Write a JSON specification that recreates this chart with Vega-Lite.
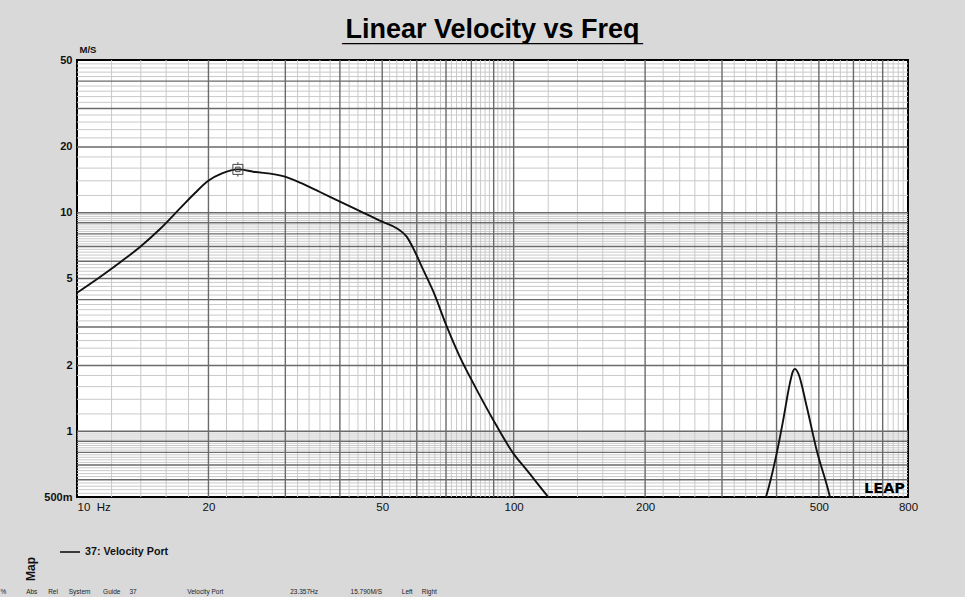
{
  "$schema": "https://vega.github.io/schema/vega-lite/v6.json",
  "width": 831,
  "height": 437,
  "autosize": {"type": "none"},
  "padding": {"left": 77, "top": 60, "right": 57, "bottom": 100},
  "background": "#d9d9d9",
  "title": {
    "text": "Linear Velocity vs Freq",
    "subtitle": "____________________",
    "font": "Liberation Sans",
    "fontSize": 27,
    "fontWeight": "bold",
    "color": "#000000",
    "subtitleFont": "Liberation Sans",
    "subtitleFontSize": 27,
    "subtitleFontWeight": "bold",
    "subtitleColor": "#000000",
    "subtitlePadding": -24,
    "anchor": "middle",
    "offset": -3
  },
  "datasets": {
    "xMajor": [
      {"f": 20}, {"f": 30}, {"f": 40}, {"f": 50}, {"f": 60}, {"f": 70}, {"f": 80}, {"f": 90},
      {"f": 100}, {"f": 200}, {"f": 300}, {"f": 400}, {"f": 500}, {"f": 600}, {"f": 700}
    ],
    "xMinor": [
      {"f": 12}, {"f": 14}, {"f": 16}, {"f": 18},
      {"f": 22}, {"f": 24}, {"f": 26}, {"f": 28},
      {"f": 32}, {"f": 34}, {"f": 36}, {"f": 38},
      {"f": 42}, {"f": 44}, {"f": 46}, {"f": 48},
      {"f": 52}, {"f": 54}, {"f": 56}, {"f": 58},
      {"f": 62}, {"f": 64}, {"f": 66}, {"f": 68},
      {"f": 72}, {"f": 74}, {"f": 76}, {"f": 78},
      {"f": 82}, {"f": 84}, {"f": 86}, {"f": 88},
      {"f": 92}, {"f": 94}, {"f": 96}, {"f": 98},
      {"f": 120}, {"f": 140}, {"f": 160}, {"f": 180},
      {"f": 220}, {"f": 240}, {"f": 260}, {"f": 280},
      {"f": 320}, {"f": 340}, {"f": 360}, {"f": 380},
      {"f": 420}, {"f": 440}, {"f": 460}, {"f": 480},
      {"f": 520}, {"f": 540}, {"f": 560}, {"f": 580},
      {"f": 620}, {"f": 640}, {"f": 660}, {"f": 680},
      {"f": 720}, {"f": 740}, {"f": 760}, {"f": 780}
    ],
    "yMajor": [
      {"v": 0.6}, {"v": 0.7}, {"v": 0.8}, {"v": 0.9},
      {"v": 1}, {"v": 2}, {"v": 3}, {"v": 4}, {"v": 5}, {"v": 6}, {"v": 7}, {"v": 8}, {"v": 9},
      {"v": 10}, {"v": 20}, {"v": 30}, {"v": 40}
    ],
    "yMinor": [
      {"v": 0.52}, {"v": 0.54}, {"v": 0.56}, {"v": 0.58},
      {"v": 0.62}, {"v": 0.64}, {"v": 0.66}, {"v": 0.68},
      {"v": 0.72}, {"v": 0.74}, {"v": 0.76}, {"v": 0.78},
      {"v": 0.82}, {"v": 0.84}, {"v": 0.86}, {"v": 0.88},
      {"v": 0.92}, {"v": 0.94}, {"v": 0.96}, {"v": 0.98},
      {"v": 1.2}, {"v": 1.4}, {"v": 1.6}, {"v": 1.8},
      {"v": 2.2}, {"v": 2.4}, {"v": 2.6}, {"v": 2.8},
      {"v": 3.2}, {"v": 3.4}, {"v": 3.6}, {"v": 3.8},
      {"v": 4.2}, {"v": 4.4}, {"v": 4.6}, {"v": 4.8},
      {"v": 5.2}, {"v": 5.4}, {"v": 5.6}, {"v": 5.8},
      {"v": 6.2}, {"v": 6.4}, {"v": 6.6}, {"v": 6.8},
      {"v": 7.2}, {"v": 7.4}, {"v": 7.6}, {"v": 7.8},
      {"v": 8.2}, {"v": 8.4}, {"v": 8.6}, {"v": 8.8},
      {"v": 9.2}, {"v": 9.4}, {"v": 9.6}, {"v": 9.8},
      {"v": 12}, {"v": 14}, {"v": 16}, {"v": 18},
      {"v": 22}, {"v": 24}, {"v": 26}, {"v": 28},
      {"v": 32}, {"v": 34}, {"v": 36}, {"v": 38},
      {"v": 42}, {"v": 44}, {"v": 46}, {"v": 48}
    ],
    "curve": [
      {"seg": "low", "f": 10, "v": 4.3},
      {"seg": "low", "f": 11.29, "v": 5.08},
      {"seg": "low", "f": 12.54, "v": 5.92},
      {"seg": "low", "f": 13.94, "v": 6.97},
      {"seg": "low", "f": 15.49, "v": 8.42},
      {"seg": "low", "f": 17.21, "v": 10.46},
      {"seg": "low", "f": 18.63, "v": 12.31},
      {"seg": "low", "f": 19.95, "v": 13.97},
      {"seg": "low", "f": 21.48, "v": 15.12},
      {"seg": "low", "f": 23.357, "v": 15.79},
      {"seg": "low", "f": 25.33, "v": 15.41},
      {"seg": "low", "f": 29.95, "v": 14.62},
      {"seg": "low", "f": 32.4, "v": 13.75},
      {"seg": "low", "f": 36.01, "v": 12.44},
      {"seg": "low", "f": 40.02, "v": 11.25},
      {"seg": "low", "f": 44.47, "v": 10.18},
      {"seg": "low", "f": 49.86, "v": 9.12},
      {"seg": "low", "f": 53.96, "v": 8.49},
      {"seg": "low", "f": 56.88, "v": 7.77},
      {"seg": "low", "f": 59.42, "v": 6.63},
      {"seg": "low", "f": 62.09, "v": 5.47},
      {"seg": "low", "f": 65.45, "v": 4.36},
      {"seg": "low", "f": 70.3, "v": 3.01},
      {"seg": "low", "f": 75.3, "v": 2.19},
      {"seg": "low", "f": 80.8, "v": 1.66},
      {"seg": "low", "f": 89.8, "v": 1.126},
      {"seg": "low", "f": 99.8, "v": 0.792},
      {"seg": "low", "f": 107.1, "v": 0.665},
      {"seg": "low", "f": 120, "v": 0.5},
      {"seg": "low", "f": 124.3, "v": 0.46},
      {"seg": "port", "f": 372, "v": 0.45},
      {"seg": "port", "f": 378.3, "v": 0.5},
      {"seg": "port", "f": 400.2, "v": 0.79},
      {"seg": "port", "f": 414.3, "v": 1.126},
      {"seg": "port", "f": 429.2, "v": 1.66},
      {"seg": "port", "f": 436, "v": 1.88},
      {"seg": "port", "f": 440.7, "v": 1.93},
      {"seg": "port", "f": 448.5, "v": 1.84},
      {"seg": "port", "f": 468.8, "v": 1.30},
      {"seg": "port", "f": 494.1, "v": 0.82},
      {"seg": "port", "f": 530, "v": 0.5},
      {"seg": "port", "f": 535, "v": 0.46}
    ],
    "cursor": [
      {"f": 23.357, "v": 15.79}
    ]
  },
  "layer": [
    {
      "data": {"name": "xMinor"},
      "mark": {"type": "rule", "color": "#c9c9c9", "strokeWidth": 1},
      "encoding": {
        "x": {"field": "f", "type": "quantitative", "scale": {"type": "log", "domain": [10, 800], "nice": false}}
      }
    },
    {
      "data": {"name": "yMinor"},
      "mark": {"type": "rule", "color": "#c9c9c9", "strokeWidth": 1},
      "encoding": {
        "y": {"field": "v", "type": "quantitative", "scale": {"type": "log", "domain": [0.5, 50], "nice": false}}
      }
    },
    {
      "data": {"name": "xMajor"},
      "mark": {"type": "rule", "color": "#6a6a6a", "strokeWidth": 1.4},
      "encoding": {
        "x": {"field": "f", "type": "quantitative", "scale": {"type": "log", "domain": [10, 800], "nice": false}}
      }
    },
    {
      "data": {"name": "yMajor"},
      "mark": {"type": "rule", "color": "#6a6a6a", "strokeWidth": 1.4},
      "encoding": {
        "y": {"field": "v", "type": "quantitative", "scale": {"type": "log", "domain": [0.5, 50], "nice": false}}
      }
    },
    {
      "data": {"name": "curve"},
      "mark": {"type": "line", "strokeWidth": 1.9, "interpolate": "monotone", "clip": true},
      "encoding": {
        "x": {
          "field": "f", "type": "quantitative",
          "scale": {"type": "log", "domain": [10, 800], "nice": false},
          "axis": {
            "values": [10, 20, 50, 100, 200, 500, 800],
            "labelExpr": "datum.value == 10 ? '10\u00a0\u00a0Hz' : datum.value + ''",
            "labelAlign": {"condition": {"test": "datum.value == 10", "value": "left"}, "value": "center"},
            "labelFont": "Liberation Sans",
            "labelFontSize": 11.5,
            "labelColor": "#111111",
            "labelPadding": 4,
            "ticks": false,
            "domain": false,
            "grid": false,
            "title": "%\u00a0\u00a0\u00a0\u00a0\u00a0\u00a0\u00a0\u00a0\u00a0\u00a0\u00a0Abs\u00a0\u00a0\u00a0\u00a0\u00a0\u00a0Rel\u00a0\u00a0\u00a0\u00a0\u00a0\u00a0System\u00a0\u00a0\u00a0\u00a0\u00a0\u00a0\u00a0Guide\u00a0\u00a0\u00a0\u00a0\u00a037\u00a0\u00a0\u00a0\u00a0\u00a0\u00a0\u00a0\u00a0\u00a0\u00a0\u00a0\u00a0\u00a0\u00a0\u00a0\u00a0\u00a0\u00a0\u00a0\u00a0\u00a0\u00a0\u00a0\u00a0\u00a0\u00a0\u00a0\u00a0Velocity Port\u00a0\u00a0\u00a0\u00a0\u00a0\u00a0\u00a0\u00a0\u00a0\u00a0\u00a0\u00a0\u00a0\u00a0\u00a0\u00a0\u00a0\u00a0\u00a0\u00a0\u00a0\u00a0\u00a0\u00a0\u00a0\u00a0\u00a0\u00a0\u00a0\u00a0\u00a0\u00a0\u00a0\u00a0\u00a0\u00a0\u00a023.357Hz\u00a0\u00a0\u00a0\u00a0\u00a0\u00a0\u00a0\u00a0\u00a0\u00a0\u00a0\u00a0\u00a0\u00a0\u00a0\u00a0\u00a0\u00a015.790M/S\u00a0\u00a0\u00a0\u00a0\u00a0\u00a0\u00a0\u00a0\u00a0\u00a0\u00a0Left\u00a0\u00a0\u00a0\u00a0\u00a0Right",
            "titleFont": "Liberation Sans",
            "titleFontSize": 6.5,
            "titleFontWeight": "normal",
            "titleColor": "#222222",
            "titleAlign": "left",
            "titleBaseline": "middle",
            "titleAnchor": "start",
            "titleX": -77,
            "titleY": 94
          }
        },
        "y": {
          "field": "v", "type": "quantitative",
          "scale": {"type": "log", "domain": [0.5, 50], "nice": false},
          "axis": {
            "values": [0.5, 1, 2, 5, 10, 20, 50],
            "labelExpr": "datum.value < 1 ? '500m' : datum.value + ''",
            "labelFont": "Liberation Sans",
            "labelFontSize": 11,
            "labelFontWeight": "bold",
            "labelColor": "#111111",
            "labelPadding": 5,
            "ticks": false,
            "domain": false,
            "grid": false,
            "title": "M/S",
            "titleFont": "Liberation Sans",
            "titleFontSize": 9.5,
            "titleFontWeight": "bold",
            "titleColor": "#111111",
            "titleAngle": 0,
            "titleAlign": "left",
            "titleBaseline": "bottom",
            "titleX": 2,
            "titleY": -6
          }
        },
        "detail": {"field": "seg", "type": "nominal"},
        "stroke": {
          "datum": "37: Velocity Port",
          "type": "nominal",
          "scale": {"range": ["#111111"]},
          "legend": {
            "orient": "none",
            "legendX": -52,
            "legendY": 481,
            "title": "Map",
            "titleOrient": "left",
            "titleAnchor": "end",
            "titleFont": "Liberation Sans",
            "titleFontSize": 12,
            "titleFontWeight": "bold",
            "titleColor": "#111111",
            "titlePadding": 8,
            "labelFont": "Liberation Sans",
            "labelFontSize": 10.7,
            "labelFontWeight": "bold",
            "labelColor": "#111111",
            "symbolType": "stroke",
            "symbolSize": 400,
            "symbolStrokeWidth": 1.6,
            "encode": {
              "title": {"update": {"angle": {"value": 270}, "align": {"value": "right"}, "baseline": {"value": "bottom"}}}
            }
          }
        }
      }
    },
    {
      "data": {"name": "cursor"},
      "mark": {
        "type": "point",
        "shape": "M-1,-1H1V1H-1Z M-0.45,-0.45H0.45V0.45H-0.45Z M0,-1V-1.45 M0,1V1.45",
        "size": 100,
        "filled": false,
        "stroke": "#444444",
        "strokeWidth": 1,
        "opacity": 1
      },
      "encoding": {
        "x": {"field": "f", "type": "quantitative", "scale": {"type": "log", "domain": [10, 800], "nice": false}},
        "y": {"field": "v", "type": "quantitative", "scale": {"type": "log", "domain": [0.5, 50], "nice": false}}
      }
    },
    {
      "data": {"values": [{}]},
      "mark": {
        "type": "text",
        "text": "LEAP",
        "font": "DejaVu Sans",
        "fontSize": 14.5,
        "fontWeight": "bold",
        "align": "right",
        "baseline": "bottom",
        "dx": -3,
        "dy": -1,
        "color": "#000000"
      },
      "encoding": {
        "x": {"datum": 800, "type": "quantitative", "scale": {"type": "log", "domain": [10, 800], "nice": false}},
        "y": {"datum": 0.5, "type": "quantitative", "scale": {"type": "log", "domain": [0.5, 50], "nice": false}}
      }
    }
  ],
  "config": {
    "view": {"fill": "#ffffff", "stroke": "#000000", "strokeWidth": 2}
  }
}
